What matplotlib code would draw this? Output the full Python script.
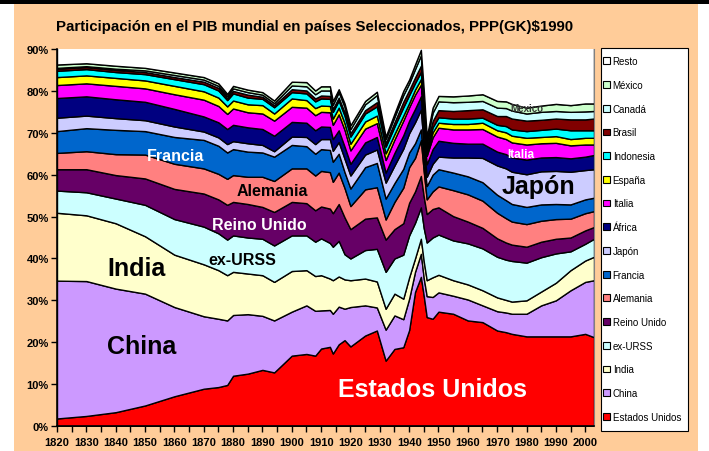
import numpy as np
import matplotlib.pyplot as plt
from matplotlib.patches import Rectangle, Patch
from matplotlib.ticker import MultipleLocator, FuncFormatter

plt.rcParams['font.family'] = ['Liberation Sans', 'DejaVu Sans']

# Participacion en el PIB mundial (%)
years = [1820, 1830, 1840, 1850, 1860, 1870, 1875, 1878, 1880, 1885, 1890, 1894,
         1900, 1905, 1908, 1910, 1913, 1914, 1916, 1918, 1920, 1925, 1929, 1932,
         1935, 1938, 1940, 1942, 1944, 1945, 1946, 1948, 1950, 1955, 1960, 1965,
         1970, 1973, 1975, 1980, 1985, 1990, 1995, 2000, 2003]

estados_unidos = [1.8, 2.4, 3.3, 4.9, 7.1, 8.9, 9.3, 9.8, 12.0, 12.5, 13.4, 12.8,
                  16.8, 17.2, 16.8, 18.5, 18.9, 17.3, 19.5, 20.5, 19.0, 21.6, 22.8, 15.6,
                  18.4, 18.8, 22.9, 32.0, 35.6, 31.0, 26.0, 25.6, 27.3, 26.8, 25.2, 24.8,
                  22.8, 22.4, 22.0, 21.4, 21.4, 21.4, 21.4, 22.0, 21.2]
china = [32.9, 32.2, 29.5, 26.7, 21.3, 17.3, 16.3, 15.4, 14.5, 14.2, 12.9, 12.4,
         10.5, 11.6, 10.7, 9.1, 8.8, 9.5, 9.0, 7.5, 9.4, 7.2, 5.5, 7.4,
         8.0, 6.7, 7.5, 4.8, 5.5, 4.2, 5.0, 5.2, 4.6, 4.3, 5.0, 4.0,
         4.6, 4.7, 4.8, 5.4, 7.4, 8.6, 11.0, 12.4, 13.6]
india = [16.2, 15.7, 15.6, 13.7, 12.5, 12.4, 11.6, 10.8, 10.3, 9.7, 9.7, 9.2,
         9.7, 8.4, 8.3, 8.4, 7.5, 8.0, 7.2, 7.0, 6.4, 6.4, 6.2, 5.0,
         5.2, 4.9, 5.1, 3.2, 3.6, 4.0, 3.8, 4.7, 4.2, 3.7, 3.6, 3.6,
         3.3, 3.0, 2.9, 3.2, 3.3, 4.2, 4.8, 5.1, 5.6]
ex_urss = [5.3, 5.5, 5.9, 7.5, 8.5, 9.0, 8.8, 8.5, 8.7, 8.6, 8.7, 8.7,
           8.5, 8.3, 8.2, 8.8, 8.5, 8.0, 8.5, 6.0, 5.2, 6.8, 7.8, 8.8,
           8.4, 10.5, 10.0, 8.5, 7.5, 8.0, 9.0, 9.5, 9.6, 9.5, 9.8, 10.0,
           9.7, 9.6, 9.7, 9.0, 8.2, 7.0, 4.5, 4.0, 4.3]
reino_unido = [5.1, 5.5, 5.6, 6.3, 7.2, 7.9, 8.1, 8.3, 8.0, 8.0, 7.6, 8.0,
               8.0, 7.7, 7.5, 7.6, 8.2, 8.0, 8.8, 8.8, 7.0, 7.5, 7.5, 7.7,
               7.0, 7.5, 7.8, 7.5, 7.5, 7.5, 6.8, 6.8, 6.5, 5.8, 5.2, 4.9,
               4.4, 4.1, 3.9, 3.8, 3.7, 3.5, 3.3, 3.2, 2.8]
alemania = [3.9, 4.3, 5.0, 5.7, 6.0, 6.0, 6.1, 6.2, 6.4, 6.5, 7.2, 7.4,
            8.0, 8.3, 8.3, 8.5, 8.7, 7.5, 7.5, 7.0, 5.5, 7.0, 7.2, 4.8,
            6.5, 8.5, 8.5, 8.0, 8.5, 6.0, 3.5, 4.2, 5.0, 6.2, 6.5, 6.5,
            6.1, 5.8, 5.5, 5.4, 5.0, 4.7, 4.5, 4.1, 3.8]
francia = [5.2, 5.5, 5.8, 5.6, 6.4, 6.8, 6.7, 6.3, 6.2, 6.0, 5.8, 5.8,
           5.6, 5.3, 5.2, 5.2, 5.3, 4.8, 4.5, 3.8, 4.2, 5.3, 5.8, 5.0,
           4.5, 4.5, 3.5, 3.5, 2.6, 2.5, 3.2, 4.0, 4.1, 4.2, 4.3, 4.4,
           4.3, 4.3, 4.2, 4.1, 3.9, 3.6, 3.4, 3.3, 3.2]
japon = [3.2, 3.0, 2.8, 2.6, 2.5, 2.0, 2.0, 2.0, 1.9, 2.0, 1.8, 1.3,
         2.0, 2.2, 2.3, 2.4, 2.6, 2.6, 2.8, 3.2, 3.1, 3.0, 3.2, 3.8,
         4.2, 4.8, 4.6, 5.0, 4.7, 3.5, 2.2, 2.6, 3.0, 3.6, 4.5, 5.8,
         7.0, 7.6, 7.7, 7.8, 7.9, 7.9, 7.8, 7.0, 6.8]
africa = [4.7, 4.6, 4.5, 4.4, 4.2, 3.6, 3.6, 3.6, 3.9, 3.8, 3.8, 3.7,
          3.5, 3.4, 3.3, 3.0, 2.9, 2.8, 2.8, 2.9, 2.8, 2.9, 3.0, 2.4,
          3.0, 3.2, 3.0, 3.2, 3.2, 3.3, 3.0, 3.5, 3.8, 3.5, 3.3, 3.4,
          3.3, 3.4, 3.4, 3.5, 3.3, 3.3, 3.2, 3.2, 3.4]
italia = [3.1, 3.1, 3.2, 3.2, 3.5, 4.0, 3.9, 3.6, 3.9, 3.6, 3.7, 3.6,
          3.6, 3.6, 3.6, 3.5, 3.5, 3.4, 3.8, 4.0, 3.2, 3.3, 3.3, 3.0,
          3.2, 3.5, 3.2, 3.4, 2.8, 2.5, 2.0, 2.8, 3.1, 3.2, 3.4, 3.5,
          3.6, 3.6, 3.6, 3.6, 3.4, 3.4, 3.1, 2.9, 2.5]
espana = [1.9, 1.9, 1.9, 1.9, 2.0, 2.0, 2.0, 1.8, 1.9, 1.9, 2.0, 1.7,
          2.0, 1.8, 1.7, 1.5, 1.5, 1.5, 1.6, 1.6, 1.6, 1.7, 1.8, 1.6,
          1.3, 1.2, 1.0, 1.2, 1.3, 1.3, 1.0, 1.2, 1.2, 1.3, 1.3, 1.5,
          1.5, 1.6, 1.6, 1.6, 1.5, 1.6, 1.5, 1.6, 1.6]
indonesia = [1.5, 1.5, 1.4, 1.5, 1.6, 1.7, 1.7, 1.5, 1.7, 1.6, 1.5, 1.5,
             1.5, 1.6, 1.6, 1.7, 1.7, 1.6, 1.7, 1.8, 1.7, 1.9, 2.2, 1.6,
             1.8, 2.0, 1.9, 1.6, 1.7, 1.2, 0.8, 1.2, 1.3, 1.3, 1.3, 1.2,
             1.3, 1.5, 1.5, 1.6, 1.7, 1.8, 2.1, 1.8, 1.8]
brasil = [0.5, 0.5, 0.5, 0.5, 0.5, 0.6, 0.6, 0.5, 0.6, 0.7, 0.5, 0.5,
          0.7, 0.7, 0.7, 0.7, 0.7, 0.7, 0.7, 0.8, 0.8, 0.8, 1.0, 0.8,
          1.0, 1.3, 1.2, 1.3, 1.5, 1.5, 1.0, 1.5, 1.7, 1.8, 2.0, 2.0,
          2.1, 2.4, 2.6, 2.5, 2.4, 2.4, 2.6, 2.6, 2.8]
canada = [0.2, 0.2, 0.3, 0.4, 0.5, 0.5, 0.5, 0.5, 0.6, 0.6, 0.5, 0.5,
          0.9, 1.0, 1.0, 1.2, 1.3, 1.0, 1.3, 1.3, 1.0, 1.4, 1.7, 1.0,
          1.3, 1.6, 1.6, 2.0, 2.5, 2.3, 1.0, 2.0, 2.1, 2.1, 2.0, 2.0,
          2.0, 1.9, 1.9, 1.7, 1.9, 1.8, 1.8, 1.9, 1.8]
mexico = [0.8, 0.7, 0.7, 0.6, 0.6, 0.6, 0.6, 0.5, 0.6, 0.6, 0.6, 0.6,
          0.9, 1.0, 0.9, 1.0, 1.0, 0.9, 0.7, 0.8, 0.9, 0.8, 0.8, 0.6,
          0.8, 1.0, 0.9, 1.1, 1.3, 1.3, 0.8, 1.2, 1.3, 1.4, 1.5, 1.6,
          1.6, 1.6, 1.6, 1.4, 1.5, 1.7, 1.6, 1.9, 1.8]

names = ['Estados Unidos', 'China', 'India', 'ex-URSS', 'Reino Unido', 'Alemania',
         'Francia', 'Japón', 'África', 'Italia', 'España', 'Indonesia', 'Brasil',
         'Canadá', 'México', 'Resto']
colors = ['#FF0000', '#CC99FF', '#FFFFCC', '#CCFFFF', '#660066', '#FF8080',
          '#0066CC', '#CCCCFF', '#000080', '#FF00FF', '#FFFF00', '#00FFFF',
          '#800000', '#CCFFFF', '#CCFFCC', '#FFFFFF']

series = [estados_unidos, china, india, ex_urss, reino_unido, alemania, francia,
          japon, africa, italia, espana, indonesia, brasil, canada, mexico]
resto = [100 - sum(v) for v in zip(*series)]
series = series + [resto]

fig = plt.figure(figsize=(7.09, 4.52), dpi=100, facecolor='white')
# fondo naranja tipo Excel
fig.patches.append(Rectangle((14 / 709, 0), 684 / 709, 1 - 5 / 452, transform=fig.transFigure,
                             facecolor='#FFCC99', edgecolor='none', zorder=-10))
fig.patches.append(Rectangle((0, 1 - 5 / 452), 1, 5 / 452, transform=fig.transFigure,
                             facecolor='black', edgecolor='none', zorder=-10))
# marco de la leyenda
fig.patches.append(Rectangle((601 / 709, 1 - 432 / 452), 87 / 709, 383 / 452, transform=fig.transFigure,
                             facecolor='white', edgecolor='black', linewidth=0.8, zorder=-5))

ax = fig.add_axes([57 / 709, 25 / 452, 537 / 709, 377 / 452])
ax.set_facecolor('white')
ax.stackplot(years, *series, colors=colors, edgecolor='black', linewidth=1.0)

ax.set_xlim(1820, 2003)
ax.set_ylim(0, 90)
ax.xaxis.set_major_locator(MultipleLocator(10))
ax.xaxis.set_minor_locator(MultipleLocator(5))
ax.yaxis.set_major_locator(MultipleLocator(10))
ax.yaxis.set_major_formatter(FuncFormatter(lambda v, p: f'{v:.0f}%'))
ax.tick_params(axis='both', which='both', direction='out', length=4, width=1, color='black')
ax.tick_params(axis='x', labelsize=8, pad=4)
ax.tick_params(axis='y', labelsize=8, pad=2)
for lab in ax.get_xticklabels() + ax.get_yticklabels():
    lab.set_fontweight('bold')
ax.spines['top'].set_visible(False)
ax.spines['right'].set_color('#808080')
ax.spines['left'].set_linewidth(1.2)
ax.spines['bottom'].set_linewidth(1.2)

# etiquetas dentro de las areas
ax.text(1860.5, 64.6, 'Francia', color='white', fontsize=11.5, fontweight='bold', ha='center', va='center')
ax.text(1893.5, 56.2, 'Alemania', color='black', fontsize=11.5, fontweight='bold', ha='center', va='center')
ax.text(1889, 48.0, 'Reino Unido', color='white', fontsize=11.5, fontweight='bold', ha='center', va='center')
ax.text(1883, 39.7, 'ex-URSS', color='black', fontsize=11.5, fontweight='bold', ha='center', va='center')
ax.text(1847, 37.6, 'India', color='black', fontsize=18, fontweight='bold', ha='center', va='center')
ax.text(1849, 19.1, 'China', color='black', fontsize=18, fontweight='bold', ha='center', va='center')
ax.text(1948, 8.9, 'Estados Unidos', color='white', fontsize=18, fontweight='bold', ha='center', va='center')
ax.text(1984, 57.2, 'Japón', color='black', fontsize=18, fontweight='bold', ha='center', va='center')
ax.text(1978, 65.0, 'Italia', color='white', fontsize=8.5, fontweight='bold', ha='center', va='center')
ax.text(1980, 76.0, 'Mexico', color='#333333', fontsize=7, fontweight='bold', ha='center', va='center')

fig.text(315 / 709, 1 - 27 / 452, 'Participación en el PIB mundial en países Seleccionados, PPP(GK)$1990',
         ha='center', va='center', fontsize=10.8, fontweight='bold')

handles = [Patch(facecolor=c, edgecolor='black', linewidth=0.8) for c in colors]
leg = fig.legend(handles[::-1], names[::-1], loc='center left',
                 bbox_to_anchor=(603 / 709, 1 - 240 / 452), borderaxespad=0,
                 fontsize=7, labelspacing=1.41, handlelength=0.7, handleheight=0.7,
                 handletextpad=0.3, borderpad=0, frameon=False)

fig.savefig('out.png', dpi=100, facecolor=fig.get_facecolor())
